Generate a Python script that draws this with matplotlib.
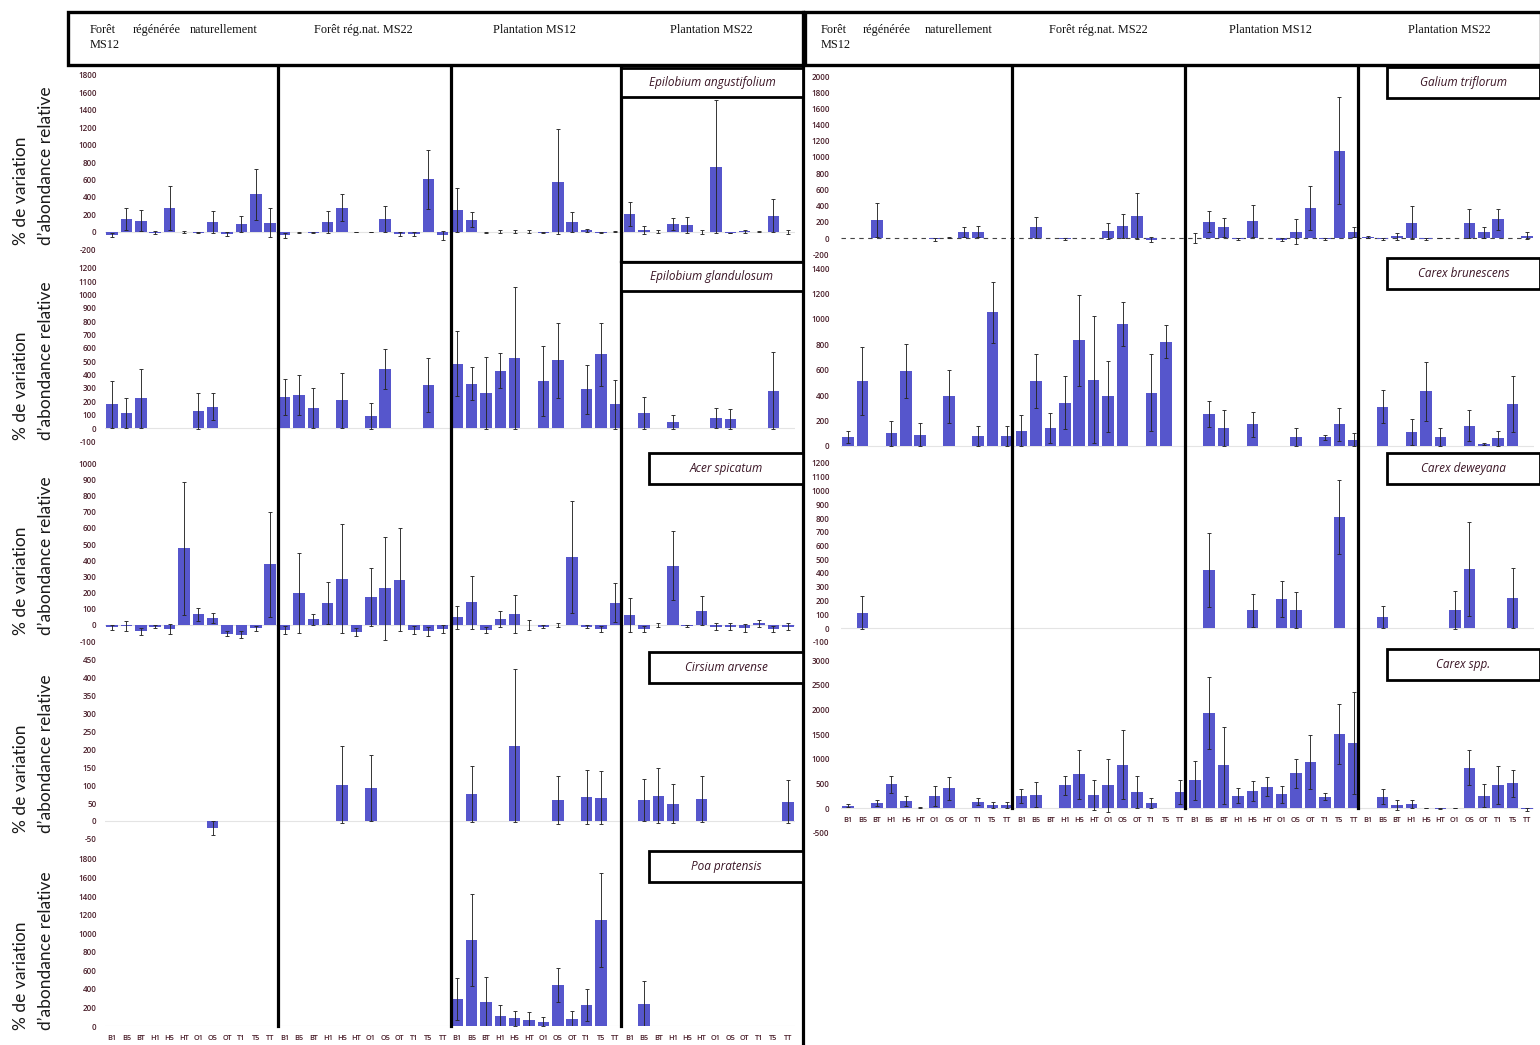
import numpy as np
import matplotlib
matplotlib.use("Agg")
import matplotlib.pyplot as plt
from matplotlib.patches import Rectangle
from matplotlib.lines import Line2D

plt.rcParams['font.family'] = ['Open Sans', 'DejaVu Sans']

# ---------------- data ----------------
cats = ['B1', 'B5', 'BT', 'H1', 'H5', 'HT', 'O1', 'O5', 'OT', 'T1', 'T5', 'TT']
groups = ['Forêt régénérée naturellement MS12', 'Forêt rég.nat. MS22', 'Plantation MS12', 'Plantation MS22']
N = None
E = [N] * 12

# Epilobium angustifolium
ea_mean = [[-35, 150, 125, -10, 270, -5, -10, 115, -30, 90, 430, 105],
           [-40, -5, -10, 110, 275, -5, -3, 150, -25, -25, 600, -40],
           [250, 140, -5, 0, 0, 0, -10, 575, 115, 15, -10, 0],
           [205, 20, 0, 85, 75, -5, 745, -15, 5, 0, 185, 0]]
ea_err = [[25, 125, 120, 15, 250, 15, 5, 125, 25, 90, 290, 170],
          [30, 5, 5, 125, 155, 3, 0, 150, 20, 20, 340, 50],
          [255, 90, 5, 15, 20, 20, 10, 600, 115, 15, 10, 5],
          [140, 50, 15, 70, 90, 25, 765, 5, 20, 3, 185, 25]]
# Epilobium glandulosum
eg_mean = [[177, 115, 222, N, N, N, 127, 160, N, N, N, N],
           [230, 245, 147, N, 207, N, 90, 440, N, N, 322, N],
           [482, 332, 262, 430, 524, N, 350, 507, N, 290, 551, 177],
           [N, 112, N, 45, N, N, 75, 65, N, N, 280, N]]
eg_err = [[177, 112, 222, N, N, N, 132, 100, N, N, N, N],
          [135, 150, 150, N, 207, N, 95, 150, N, N, 205, N],
          [245, 125, 270, 132, 534, N, 262, 279, N, 185, 237, 185],
          [N, 120, N, 50, N, N, 77, 75, N, N, 290, N]]
# Acer spicatum
as_mean = [[-15, -5, -40, -10, -25, 474, 66, 43, -55, -60, -20, 375],
           [-30, 200, 35, 134, 287, -45, 175, 227, 280, -30, -40, -25],
           [47, 140, -30, 37, 68, 0, -10, 0, 423, -10, -25, 138],
           [62, -25, 0, 367, -5, 89, -10, -10, -20, 10, -25, -10]]
as_err = [[15, 30, 20, 10, 30, 413, 40, 33, 15, 20, 15, 325],
          [25, 247, 33, 130, 336, 25, 180, 320, 318, 25, 30, 25],
          [72, 165, 20, 50, 118, 30, 10, 10, 346, 10, 20, 120],
          [107, 20, 15, 214, 5, 88, 20, 20, 25, 20, 20, 20]]
# Cirsium arvense
ca_mean = [[N, N, N, N, N, N, N, -20, N, N, N, N],
           [N, N, N, N, 101, N, 92, N, N, N, N, N],
           [N, 75, N, N, 210, N, N, 59, N, 68, 65, N],
           [N, 58, 71, 48, N, 61, N, N, N, N, N, 54]]
ca_err = [[N, N, N, N, N, N, N, 20, N, N, N, N],
          [N, N, N, N, 107, N, 93, N, N, N, N, N],
          [N, 79, N, N, 214, N, N, 66, N, 75, 74, N],
          [N, 59, 77, 54, N, 65, N, N, N, N, N, 60]]
# Poa pratensis
pp_mean = [E, E,
           [291, 927, 262, 111, 83, 68, 47, 438, 75, 223, 1143, N],
           [N, 237, N, N, N, N, N, N, N, N, N, N]]
pp_err = [E, E,
          [230, 492, 270, 119, 79, 79, 50, 183, 86, 172, 510, N],
          [N, 248, N, N, N, N, N, N, N, N, N, N]]
# Galium triflorum
gt_mean = [[N, N, 222, N, N, N, -15, 5, 70, 80, N, N],
           [N, 130, N, -10, N, N, 90, 150, 270, -20, N, N],
           [0, 200, 130, -10, 210, N, -20, 80, 370, -10, 1080, 70],
           [10, -15, 20, 190, -10, 0, N, 180, 70, 230, N, 30]]
gt_err = [[N, N, 210, N, N, N, 20, 10, 60, 70, N, N],
          [N, 130, N, 15, N, N, 100, 150, 280, 30, N, N],
          [60, 130, 120, 15, 200, N, 15, 150, 270, 10, 660, 60],
          [10, 15, 40, 200, 10, 5, N, 180, 70, 130, N, 40]]
# Carex brunescens
cb_mean = [[70, 510, N, 100, 590, 90, N, 390, N, 80, 1050, 80],
           [120, 510, 140, 340, 830, 520, 390, 960, N, 420, 820, N],
           [N, 250, 140, N, 170, N, N, 70, N, 70, 170, 50],
           [N, 310, N, 110, 430, 70, N, 160, 15, 60, 330, N]]
cb_err = [[50, 270, N, 100, 210, 90, N, 210, N, 80, 240, 80],
          [120, 210, 120, 210, 360, 500, 280, 170, N, 300, 130, N],
          [N, 100, 140, N, 100, N, N, 70, N, 20, 130, 50],
          [N, 130, N, 100, 230, 70, N, 120, 10, 60, 220, N]]
# Carex deweyana
cd_mean = [[N, 110, N, N, N, N, N, N, N, N, N, N],
           E,
           [N, 420, N, N, 130, N, 210, 130, N, N, 810, N],
           [N, 80, N, N, N, N, 130, 430, N, N, 220, N]]
cd_err = [[N, 120, N, N, N, N, N, N, N, N, N, N],
          E,
          [N, 270, N, N, 120, N, 130, 130, N, N, 270, N],
          [N, 80, N, N, N, N, 140, 340, N, N, 220, N]]
# Carex spp.
cs_mean = [[50, N, 100, 480, 150, 5, 250, 400, N, 130, 60, 60],
           [250, 270, N, 460, 680, 260, 460, 880, 330, 100, N, 320],
           [560, 1920, 870, 250, 350, 430, 280, 700, 930, 230, 1500, 1320],
           [N, 230, 60, 80, 0, -20, 0, 820, 250, 470, 500, -30]]
cs_err = [[30, N, 60, 170, 100, 10, 200, 230, N, 70, 60, 60],
          [140, 250, N, 190, 500, 300, 540, 700, 320, 100, N, 240],
          [390, 730, 780, 150, 200, 190, 170, 300, 550, 70, 600, 1030],
          [N, 150, 100, 80, 10, 10, 5, 360, 230, 390, 280, 30]]

# ---------------- layout ----------------
W, H = 1540, 1045
BAR = '#5656cc'
TC = '#4a1f2a'
fig = plt.figure(figsize=(W / 100, H / 100), dpi=100)


def flat(g):
    return np.array([np.nan if v is None else v for row in g for v in row], dtype=float)


# half: (x of first category, spacing)
HALF = {'L': (112.0, 14.38), 'R': (848.0, 14.45)}

panels = [
    ('Epilobium angustifolium', ea_mean, ea_err, 'L', 231.7, 156.7 / 1800, (-270, 1850), np.arange(-200, 1801, 200), (621, 68, 803, 97), False, False),
    ('Epilobium glandulosum', eg_mean, eg_err, 'L', 428.0, 160.3 / 1200, (-180, 1260), np.arange(-100, 1201, 100), (621, 262, 803, 291), False, False),
    ('Acer spicatum', as_mean, as_err, 'L', 625.0, 161.7 / 1000, (-140, 1040), np.arange(-100, 1001, 100), (649, 453, 803, 484), False, False),
    ('Cirsium arvense', ca_mean, ca_err, 'L', 821.0, 161.3 / 450, (-65, 470), np.arange(-50, 451, 50), (649, 652, 803, 683), False, False),
    ('Poa pratensis', pp_mean, pp_err, 'L', 1026.0, 167.0 / 1800, (0, 1880), np.arange(0, 1801, 200), (649, 851, 803, 882), True, False),
    ('Galium triflorum', gt_mean, gt_err, 'R', 238.0, 162.0 / 2000, (-260, 2050), np.arange(-200, 2001, 200), (1387, 67, 1540, 98), False, True),
    ('Carex brunescens', cb_mean, cb_err, 'R', 446.0, 178.0 / 1400, (-40, 1440), np.arange(0, 1401, 200), (1387, 258, 1540, 289), False, False),
    ('Carex deweyana', cd_mean, cd_err, 'R', 628.0, 165.0 / 1200, (-130, 1230), np.arange(-100, 1201, 100), (1387, 453, 1540, 484), False, False),
    ('Carex spp.', cs_mean, cs_err, 'R', 808.0, 148.0 / 3000, (-560, 3080), np.arange(-500, 3001, 500), (1387, 649, 1540, 680), True, False),
]

xcat = np.arange(48)
labels48 = cats * 4

for name, means, errs, half, zpx, ppu, ylim, ticks, box, bottom, dashed in panels:
    x0, sp = HALF[half]
    left = x0 - 0.5 * sp
    right = x0 + 47.5 * sp
    top = zpx - ylim[1] * ppu
    bot = zpx - ylim[0] * ppu
    ax = fig.add_axes([left / W, 1 - bot / H, (right - left) / W, (bot - top) / H])
    ax.set_xlim(-0.5, 47.5)
    ax.set_ylim(*ylim)
    for s in ax.spines.values():
        s.set_visible(False)
    ax.patch.set_alpha(0)
    if dashed:
        ax.axhline(0, color='#444444', lw=0.8, dashes=(4, 4), zorder=1)
    else:
        ax.axhline(0, color='#e4e4e4', lw=0.8, zorder=1)
    m = flat(means)
    e = flat(errs)
    ok = ~np.isnan(m)
    ax.bar(xcat[ok], m[ok], width=0.8, color=BAR, zorder=2)
    ee = np.where(np.isnan(e), 0, e)
    ax.errorbar(xcat[ok], m[ok], yerr=ee[ok], fmt='none', ecolor='#262626',
                elinewidth=0.65, capsize=1.6, capthick=0.65, zorder=3)
    ax.set_yticks(ticks)
    ax.set_yticklabels([str(t) for t in ticks], fontweight='semibold')
    ax.tick_params(axis='y', length=0, labelsize=5.8, labelcolor=TC,
                   pad=6 if half == 'L' else 8)
    if bottom:
        ax.spines['bottom'].set_position(('data', 0))
        ax.set_xticks(xcat)
        ax.set_xticklabels(labels48, fontweight='semibold')
        ax.tick_params(axis='x', length=0, labelsize=5.3, labelcolor=TC, pad=6.5)
    else:
        ax.set_xticks([])
    bx0, by0, bx1, by1 = box
    fig.add_artist(Rectangle((bx0 / W, 1 - by1 / H), (bx1 - bx0) / W, (by1 - by0) / H,
                             facecolor='white', edgecolor='black', lw=2.0, zorder=5))
    fig.text((bx0 + bx1) / 2 / W, 1 - (by0 + by1) / 2 / H, name, ha='center', va='center',
             fontsize=8.5, style='italic', color='#3a1525', zorder=6)


def vline(x, y0, y1, lw=2.3):
    fig.add_artist(Line2D([x / W, x / W], [1 - y0 / H, 1 - y1 / H], color='black', lw=lw, zorder=4))


def hline(y, x0, x1, lw=2.2):
    fig.add_artist(Line2D([x0 / W, x1 / W], [1 - y / H, 1 - y / H], color='black', lw=lw, zorder=4))


for x in (278, 451, 621):
    vline(x, 65, 1026)
vline(803, 12, 1045)
for x in (1012, 1185, 1358):
    vline(x, 65, 808)
hline(262, 621, 803, lw=1.6)

for (hx0, hx1, divs, txs) in [(68, 803, (277, 449, 619), (90, 157, 257, 363, 534, 711)),
                               (805, 1541, (1012, 1185, 1358), (821, 887, 992, 1098, 1270, 1449))]:
    fig.add_artist(Rectangle((hx0 / W, 1 - 65 / H), (hx1 - hx0) / W, 53 / H,
                             facecolor='white', edgecolor='black', lw=2.4, zorder=5))
    for d in divs:
        vline(d, 12, 65, lw=2.0)
    kw = dict(fontsize=8.8, family=['Liberation Serif', 'DejaVu Serif'], color='#111111', zorder=6)
    fig.text(txs[0] / W, 1 - 30 / H, 'Forêt', ha='left', va='center', **kw)
    fig.text(txs[1] / W, 1 - 30 / H, 'régénérée', ha='center', va='center', **kw)
    fig.text(txs[2] / W, 1 - 30 / H, 'naturellement', ha='right', va='center', **kw)
    fig.text(txs[0] / W, 1 - 45 / H, 'MS12', ha='left', va='center', **kw)
    fig.text(txs[3] / W, 1 - 30 / H, groups[1], ha='center', va='center', **kw)
    fig.text(txs[4] / W, 1 - 30 / H, groups[2], ha='center', va='center', **kw)
    fig.text(txs[5] / W, 1 - 30 / H, groups[3], ha='center', va='center', **kw)

for yb in (245, 440, 635, 833, 1030):
    for xl, txt in ((21, '% de variation'), (46, 'd’abondance relative')):
        fig.text(xl / W, 1 - yb / H, txt, rotation=90, rotation_mode='anchor',
                 ha='left', va='center', fontsize=12.5, color='#1a1a1a',
                 family=['Lato', 'DejaVu Sans'])

fig.savefig('out.png', dpi=100, facecolor='white')
